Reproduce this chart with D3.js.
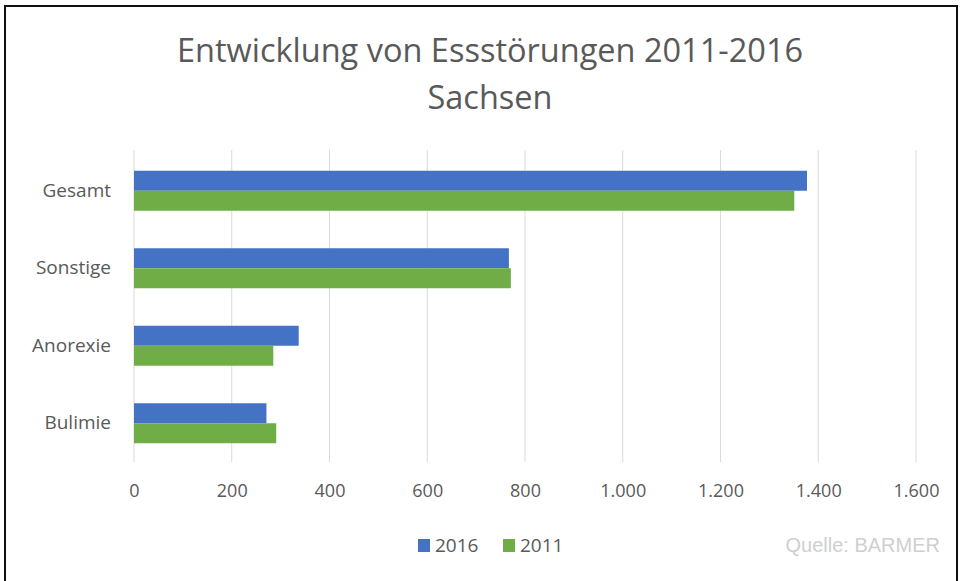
<!DOCTYPE html>
<html>
<head>
<meta charset="utf-8">
<script src="https://cdn.jsdelivr.net/npm/d3@7"></script>
<style>
  body { margin:0; background:#fff; }
  text { font-family:"Open Sans", "Noto Sans", sans-serif; }
</style>
</head>
<body>
<svg></svg>
<script>
var categories = ["Gesamt","Sonstige","Anorexie","Bulimie"];
var seriesNames = ["2016","2011"];
var values2016 = [1377, 767, 337, 271];
var values2011 = [1351, 771, 285, 291];
var xTicks = [0,200,400,600,800,1000,1200,1400,1600];

var colors = {"2016":"#4472C4","2011":"#70AD47"};

var screen = { width:961, height:581 };

var svg = d3.select("svg")
            .attr("width",screen.width)
            .attr("height",screen.height);

// frame
svg.append("path")
   .attr("d","M5,590 L5,6 L957,6 L957,590")
   .attr("fill","none")
   .attr("stroke","#111")
   .attr("stroke-width",2);

// title
svg.append("text")
   .attr("x",490)
   .attr("y",62)
   .attr("text-anchor","middle")
   .attr("fill","#595959")
   .attr("font-size",32.5)
   .text("Entwicklung von Essstörungen 2011-2016");
svg.append("text")
   .attr("x",490)
   .attr("y",109)
   .attr("text-anchor","middle")
   .attr("fill","#595959")
   .attr("font-size",32.5)
   .text("Sachsen");

var rows = categories.map(function(c,i)
{
  return { cat:c, "2016":values2016[i], "2011":values2011[i] };
});

var xScale = d3.scaleLinear()
               .domain([0,1600])
               .range([134,916]);
var yScale = d3.scaleBand()
               .domain(categories)
               .range([152,462])
               .paddingInner(0.484)
               .paddingOuter(0.242);
var ySub = d3.scaleBand()
             .domain(seriesNames)
             .range([0,yScale.bandwidth()]);

// gridlines
svg.append("g").classed("grid",true)
   .selectAll("line")
   .data(xTicks)
   .enter()
   .append("line")
   .attr("x1",function(d){return xScale(d);})
   .attr("x2",function(d){return xScale(d);})
   .attr("y1",150)
   .attr("y2",462)
   .attr("stroke","#d9d9d9")
   .attr("stroke-width",1);

// bars
var groups = svg.append("g").classed("bars",true)
   .selectAll("g")
   .data(rows)
   .enter()
   .append("g")
   .attr("transform",function(d){return "translate(0,"+yScale(d.cat)+")";});

groups.selectAll("rect")
   .data(function(d){return seriesNames.map(function(s){return {s:s,v:d[s]};});})
   .enter()
   .append("rect")
   .attr("x",xScale(0))
   .attr("y",function(d){return ySub(d.s);})
   .attr("width",function(d){return xScale(d.v)-xScale(0);})
   .attr("height",ySub.bandwidth())
   .attr("fill",function(d){return colors[d.s];});

// category labels
var yAxis = d3.axisLeft(yScale).tickSize(0).tickPadding(0);
svg.append("g").classed("yAxis",true)
   .attr("transform","translate(111,0)")
   .call(yAxis)
   .call(function(g){ g.select(".domain").remove(); })
   .selectAll("text")
   .attr("fill","#595959")
   .attr("font-size",19)
   .attr("font-family","'Open Sans', sans-serif");

// x axis labels
var fmt = function(d){ return d3.format(",")(d).replace(/,/g,"."); };
var xAxis = d3.axisBottom(xScale).tickValues(xTicks).tickFormat(fmt).tickSize(0).tickPadding(0);
svg.append("g").classed("xAxis",true)
   .attr("transform","translate(0,484)")
   .call(xAxis)
   .call(function(g){ g.select(".domain").remove(); })
   .selectAll("text")
   .attr("fill","#595959")
   .attr("font-size",18)
   .attr("font-family","'Open Sans', sans-serif");

// legend
var legendX = [418,503];
var legend = svg.append("g").classed("legend",true);
var legendLines = legend.selectAll("g")
   .data(seriesNames)
   .enter()
   .append("g")
   .attr("transform",function(d,i){return "translate("+legendX[i]+",539)";});
legendLines.append("rect")
   .attr("width",12)
   .attr("height",13)
   .attr("fill",function(d){return colors[d];});
legendLines.append("text")
   .attr("x",17)
   .attr("y",13)
   .attr("fill","#595959")
   .attr("font-size",19)
   .text(function(d){return d;});

// source
svg.append("text")
   .attr("x",940)
   .attr("y",552)
   .attr("text-anchor","end")
   .attr("fill","#cfcfcf")
   .attr("font-size",20)
   .style("font-family","'Liberation Sans', Arial, sans-serif")
   .text("Quelle: BARMER");
</script>
</body>
</html>
